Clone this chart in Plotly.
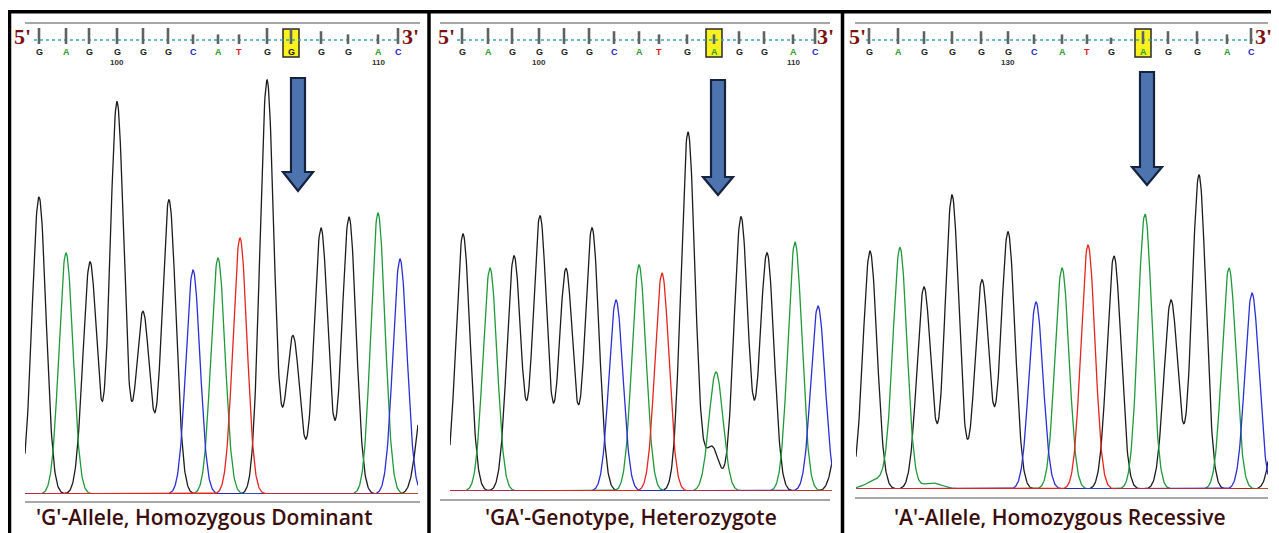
import numpy as np
import plotly.graph_objects as go

# page window is 1279x533; the html body adds an 8px margin, so the figure is
# placed inside it and all layout pixels are given in window coordinates.
WIN_W, WIN_H = 1279, 533
OFF = 8
W, H = WIN_W - 2 * OFF, WIN_H - OFF

# ---------------- data ----------------
# base calls (sequence letters) and their scan positions, per panel
seq1 = list("GAGGGGCATGGGGAC")
base_pos1 = [39, 66, 89, 117, 143, 168, 193, 218, 239, 267, 291, 321, 348, 378, 398]
seq2 = list("GAGGGGCATGAGGAC")
base_pos2 = [462, 488, 512, 539, 564, 589, 614, 639, 659, 687, 714, 739, 764, 793, 815]
seq3 = list("GAGGGGCATGAGGAC")
base_pos3 = [869, 898, 924, 952, 981, 1008, 1034, 1062, 1087, 1111, 1143, 1168, 1197, 1227, 1251]
# base call quality (tick length, relative)
qual1 = [1, 1, 1, 1, 1, 1, 0.6, 0.6, 0.6, 1, 1, 0.8, 0.6, 0.6, 1]
qual2 = [1, 1, 1, 1, 1, 1, 0.8, 0.8, 0.6, 0.6, 0.6, 0.8, 0.8, 0.6, 1]
qual3 = [1, 1, 0.8, 0.8, 0.8, 0.8, 0.6, 0.6, 0.6, 0.4, 0.8, 0.8, 0.8, 0.6, 1]
# position number labels
num_labels1 = ["100", "110"]
num_pos1 = [117, 378]
num_labels2 = ["100", "110"]
num_pos2 = [539, 793]
num_labels3 = ["130"]
num_pos3 = [1008]
# highlighted SNP base index
snp_index = 10

# chromatogram peaks: scan position, dye channel, intensity, width
peak_pos1 = [39, 66, 90, 117, 143, 169, 193, 218, 240, 267, 293, 321, 349, 378, 400, 424]
peak_base1 = ["G", "A", "G", "G", "G", "G", "C", "A", "T", "G", "G", "G", "G", "A", "C", "G"]
peak_int1 = [297, 241, 232, 392, 182, 294, 224, 236, 256, 414, 158, 266, 277, 281, 235, 100]
peak_wid1 = [7] * 16

peak_pos2 = [463, 490, 514, 540, 566, 592, 616, 639, 662, 688, 712, 716, 741, 767, 795, 818, 842]
peak_base2 = ["G", "A", "G", "G", "G", "G", "C", "A", "T", "G", "G", "A", "G", "G", "A", "C", "G"]
peak_int2 = [257, 223, 235, 275, 222, 263, 191, 226, 218, 359, 44, 119, 274, 238, 249, 185, 80]
peak_wid2 = [7] * 17

peak_pos3 = [870, 880, 900, 924, 932, 952, 982, 1008, 1036, 1062, 1088, 1114, 1145, 1171, 1199, 1229, 1252, 1280]
peak_base3 = ["G", "A", "A", "G", "A", "G", "G", "G", "C", "A", "T", "G", "A", "G", "G", "A", "C", "G"]
peak_int3 = [238, 10, 239, 202, 6, 294, 209, 257, 187, 221, 244, 233, 275, 189, 314, 221, 196, 120]
peak_wid3 = [7, 12, 7, 7, 10, 7, 7, 7, 7, 7, 7, 7, 7, 7, 7, 7, 7, 7]

captions = ["'G'-Allele, Homozygous Dominant",
            "'GA'-Genotype, Heterozygote",
            "'A'-Allele, Homozygous Recessive"]

# ---------------- layout constants ----------------
dye_color = {"G": "#1c1c1c", "A": "#1f9a3a", "T": "#e5251f", "C": "#2b2fd6"}
label_color = {"G": "#222222", "A": "#2d9a2d", "T": "#d42020", "C": "#2424c4"}
draw_order = ["G", "A", "C", "T"]

panels = [
    dict(seq=seq1, bpos=base_pos1, qual=qual1, nl=num_labels1, npos=num_pos1,
         ppos=peak_pos1, pbase=peak_base1, pint=peak_int1, pwid=peak_wid1,
         x0=25, x1=418, base_y=494, line_x0=25, line_x1=420, bot_y=502,
         p5=22, p3=410, dot_x0=34, dot_x1=399,
         arrow=dict(sx0=291, sx1=305, top=78, hy=172, hx0=283, hx1=313, tip=191),
         cap_x=34, cap_anchor="left"),
    dict(seq=seq2, bpos=base_pos2, qual=qual2, nl=num_labels2, npos=num_pos2,
         ppos=peak_pos2, pbase=peak_base2, pint=peak_int2, pwid=peak_wid2,
         x0=450, x1=832, base_y=491, line_x0=440, line_x1=830, bot_y=500,
         p5=446, p3=825, dot_x0=457, dot_x1=816,
         arrow=dict(sx0=711, sx1=725, top=80, hy=177, hx0=703, hx1=733, tip=195),
         cap_x=631, cap_anchor="center"),
    dict(seq=seq3, bpos=base_pos3, qual=qual3, nl=num_labels3, npos=num_pos3,
         ppos=peak_pos3, pbase=peak_base3, pint=peak_int3, pwid=peak_wid3,
         x0=856, x1=1268, base_y=489, line_x0=855, line_x1=1268, bot_y=498,
         p5=857, p3=1263, dot_x0=866, dot_x1=1253,
         arrow=dict(sx0=1140, sx1=1154, top=72, hy=167, hx0=1132, hx1=1162, tip=185),
         cap_x=1060, cap_anchor="center"),
]

TOP_Y = 60  # pixel row of the top of the trace area


def px(x):
    return (x - OFF) / W


def py(y):
    return 1 - (y - OFF) / H


fig = go.Figure()
shapes = []
annotations = []

for i, p in enumerate(panels):
    n = "" if i == 0 else str(i + 1)
    xa, ya = "x" + n, "y" + n
    xs = np.linspace(p["x0"], p["x1"], 900)
    for dye in draw_order:
        ys = np.zeros_like(xs)
        for pos, b, h, w in zip(p["ppos"], p["pbase"], p["pint"], p["pwid"]):
            if b == dye:
                ys += h * np.exp(-((xs - pos) ** 2) / (2 * w * w))
        fig.add_trace(go.Scatter(x=xs, y=ys, mode="lines", xaxis=xa, yaxis=ya,
                                 line=dict(color=dye_color[dye], width=1.3),
                                 hoverinfo="skip", showlegend=False))
    yr = p["base_y"] - TOP_Y
    fig.layout["xaxis" + n] = dict(domain=[px(p["x0"]), px(p["x1"])], range=[p["x0"], p["x1"]],
                                   visible=False, fixedrange=True, anchor=ya)
    fig.layout["yaxis" + n] = dict(domain=[py(p["base_y"]), py(TOP_Y)], range=[0, yr],
                                   visible=False, fixedrange=True, anchor=xa)

    # top grey rule
    shapes.append(dict(type="line", xref="paper", yref="paper",
                       x0=px(p["line_x0"]), x1=px(p["line_x1"]), y0=py(23), y1=py(23),
                       line=dict(color="#8a8a8a", width=1.6)))
    # bottom grey rule
    shapes.append(dict(type="line", xref="paper", yref="paper",
                       x0=px(p["line_x0"]), x1=px(p["line_x1"]), y0=py(p["bot_y"]), y1=py(p["bot_y"]),
                       line=dict(color="#8a8a8a", width=1.6)))
    # yellow SNP box
    bx = p["bpos"][snp_index]
    shapes.append(dict(type="rect", xref=xa, yref="paper",
                       x0=bx - 8, x1=bx + 8, y0=py(57), y1=py(29),
                       fillcolor="#fbf21f", line=dict(color="#2a2a2a", width=1.5), layer="below"))
    # dotted teal line
    shapes.append(dict(type="line", xref="paper", yref="paper",
                       x0=px(p["dot_x0"]), x1=px(p["dot_x1"]), y0=py(40), y1=py(40),
                       line=dict(color="#3aa7b5", width=1.6, dash="dot")))
    # base call ticks and letters
    for b, xpos, q in zip(p["seq"], p["bpos"], p["qual"]):
        shapes.append(dict(type="line", xref=xa, yref="paper",
                           x0=xpos, x1=xpos, y0=py(44), y1=py(44 - 16 * q),
                           line=dict(color="#5b6462", width=2.6)))
        annotations.append(dict(x=xpos, y=py(52), xref=xa, yref="paper", text=b,
                                showarrow=False, xanchor="center", yanchor="middle",
                                font=dict(family="Liberation Sans", size=9, color=label_color[b],
                                          weight="bold")))
    for t, xpos in zip(p["nl"], p["npos"]):
        annotations.append(dict(x=xpos, y=py(63), xref=xa, yref="paper", text=t,
                                showarrow=False, xanchor="center", yanchor="middle",
                                font=dict(family="Liberation Sans", size=8, color="#333333",
                                          weight="bold")))
    # 5' and 3'
    for txt, xpos in (("5'", p["p5"]), ("3'", p["p3"])):
        annotations.append(dict(x=px(xpos), y=py(37), xref="paper", yref="paper", text=txt,
                                showarrow=False, xanchor="center", yanchor="middle",
                                font=dict(family="Liberation Serif", size=22, color="#7b1212",
                                          weight="bold")))
    # arrow
    a = p["arrow"]
    path = (f"M {px(a['sx0'])},{py(a['top'])} L {px(a['sx1'])},{py(a['top'])} "
            f"L {px(a['sx1'])},{py(a['hy'])} L {px(a['hx1'])},{py(a['hy'])} "
            f"L {px((a['hx0'] + a['hx1']) / 2)},{py(a['tip'])} L {px(a['hx0'])},{py(a['hy'])} "
            f"L {px(a['sx0'])},{py(a['hy'])} Z")
    shapes.append(dict(type="path", xref="paper", yref="paper", path=path,
                       fillcolor="#4d74ae", line=dict(color="#16233d", width=2.2)))
    # caption
    annotations.append(dict(x=px(p["cap_x"]), y=py(517), xref="paper", yref="paper",
                            text=captions[i], showarrow=False, xanchor=p["cap_anchor"],
                            yanchor="middle",
                            font=dict(family="Open Sans", size=21, color="#3b0d0d", weight=600)))

# frame and dividers
shapes.append(dict(type="rect", xref="paper", yref="paper",
                   x0=px(9.5), x1=px(1276.5), y0=py(560), y1=py(11.8),
                   line=dict(color="#000000", width=3.5)))
for xd in (429, 842.5):
    shapes.append(dict(type="line", xref="paper", yref="paper",
                       x0=px(xd), x1=px(xd), y0=py(11), y1=py(560),
                       line=dict(color="#000000", width=3.5)))

fig.update_layout(width=W, height=H, margin=dict(l=0, r=0, t=0, b=0),
                  paper_bgcolor="white", plot_bgcolor="rgba(0,0,0,0)",
                  shapes=shapes, annotations=annotations, showlegend=False)

fig.write_html("out.html", config={"displayModeBar": False})
